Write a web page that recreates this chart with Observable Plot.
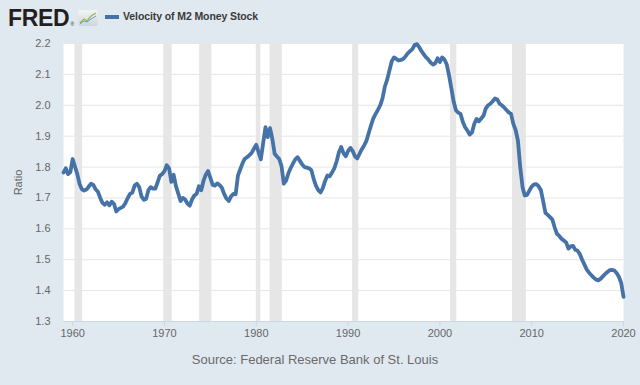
<!DOCTYPE html>
<html>
<head>
<meta charset="utf-8">
<script src="https://cdn.jsdelivr.net/npm/d3@7"></script>
<script src="https://cdn.jsdelivr.net/npm/@observablehq/plot@0.6"></script>
<style>
  html, body { margin: 0; padding: 0; }
  body { background: #e1e9f0; width: 640px; height: 385px; overflow: hidden; font-family: "Liberation Sans", Arial, sans-serif; }
  #header { position: relative; height: 36px; }
  #logo { position: absolute; left: 8px; top: 7px; font-size: 23px; line-height: 23px; font-weight: bold; color: #231f20; letter-spacing: -0.3px; }
  #logo sup { font-size: 5px; font-weight: normal; vertical-align: baseline; margin-left: 1px; }
  #icon { position: absolute; left: 78px; top: 10px; }
  #swatch { position: absolute; left: 105px; top: 15px; width: 14px; height: 4px; background: #4572a7; }
  #legend { position: absolute; left: 123px; top: 10px; font-size: 10.5px; line-height: 13px; font-weight: bold; color: #3a3a3a; letter-spacing: -0.1px; }
  #caption { height: 28px; line-height: 28px; text-align: center; padding-right: 10px; font-size: 13px; color: #6a6a6a; }
  #chart svg { display: block; }
</style>
</head>
<body>
<div id="header">
  <div id="logo">FRED<sup>®</sup></div>
  <svg id="icon" width="20" height="16" viewBox="0 0 20 16">
    <defs><linearGradient id="g" x1="0" y1="0" x2="0" y2="1"><stop offset="0" stop-color="#f4f4f4"/><stop offset="1" stop-color="#cfd6dc"/></linearGradient></defs>
    <rect x="0" y="0" width="20" height="16" rx="2" fill="url(#g)"/>
    <polyline points="2,13 6,9 9,11 13,6 18,3" fill="none" stroke="#8fbf4a" stroke-width="1.3"/>
    <polyline points="2,14 6,11 9,12 13,9 18,6" fill="none" stroke="#6b9bd1" stroke-width="1"/>
  </svg>
  <div id="swatch"></div>
  <div id="legend"></div>
</div>
<div id="chart"></div>
<div id="caption"></div>
<script>
const seriesName = "Velocity of M2 Money Stock";
const sourceText = "Source: Federal Reserve Bank of St. Louis";
const yLabel = "Ratio";
const startYear = 1959; // quarterly series begins 1959 Q1

// Quarterly values, 1959 Q1 .. 2020 Q1
const velocity = [
  1.782, 1.796, 1.777, 1.784,  // 1959
  1.826, 1.802, 1.778, 1.745,  // 1960
  1.728, 1.724, 1.727, 1.737,  // 1961
  1.746, 1.742, 1.728, 1.720,  // 1962
  1.700, 1.684, 1.678, 1.686,  // 1963
  1.676, 1.688, 1.681, 1.656,  // 1964
  1.664, 1.668, 1.672, 1.684,  // 1965
  1.700, 1.713, 1.717, 1.740,  // 1966
  1.746, 1.735, 1.705, 1.694,  // 1967
  1.697, 1.725, 1.735, 1.730,  // 1968
  1.730, 1.750, 1.772, 1.777,  // 1969
  1.787, 1.806, 1.796, 1.752,  // 1970
  1.775, 1.738, 1.715, 1.690,  // 1971
  1.700, 1.695, 1.682, 1.675,  // 1972
  1.695, 1.708, 1.713, 1.738,  // 1973
  1.725, 1.755, 1.775, 1.787,  // 1974
  1.765, 1.742, 1.740, 1.747,  // 1975
  1.742, 1.733, 1.713, 1.698,  // 1976
  1.690, 1.705, 1.713, 1.712,  // 1977
  1.772, 1.792, 1.812, 1.827,  // 1978
  1.832, 1.838, 1.846, 1.860,  // 1979
  1.872, 1.848, 1.825, 1.878,  // 1980
  1.929, 1.897, 1.926, 1.891,  // 1981
  1.843, 1.834, 1.826, 1.803,  // 1982
  1.746, 1.756, 1.780, 1.797,  // 1983
  1.812, 1.825, 1.832, 1.820,  // 1984
  1.808, 1.800, 1.798, 1.796,  // 1985
  1.790, 1.762, 1.740, 1.725,  // 1986
  1.718, 1.732, 1.755, 1.773,  // 1987
  1.770, 1.782, 1.796, 1.818,  // 1988
  1.848, 1.865, 1.845, 1.835,  // 1989
  1.852, 1.862, 1.852, 1.835,  // 1990
  1.828, 1.843, 1.858, 1.870,  // 1991
  1.885, 1.910, 1.935, 1.958,  // 1992
  1.972, 1.985, 2.000, 2.022,  // 1993
  2.060, 2.082, 2.112, 2.142,  // 1994
  2.155, 2.150, 2.145, 2.147,  // 1995
  2.150, 2.158, 2.168, 2.175,  // 1996
  2.182, 2.195, 2.198, 2.188,  // 1997
  2.175, 2.165, 2.155, 2.148,  // 1998
  2.138, 2.132, 2.136, 2.152,  // 1999
  2.140, 2.155, 2.148, 2.132,  // 2000
  2.096, 2.055, 2.012, 1.984,  // 2001
  1.976, 1.972, 1.947, 1.929,  // 2002
  1.918, 1.905, 1.912, 1.940,  // 2003
  1.956, 1.948, 1.957, 1.966,  // 2004
  1.990, 2.000, 2.005, 2.013,  // 2005
  2.022, 2.019, 2.005, 2.000,  // 2006
  1.993, 1.985, 1.977, 1.972,  // 2007
  1.940, 1.920, 1.886, 1.800,  // 2008
  1.735, 1.708, 1.710, 1.724,  // 2009
  1.737, 1.744, 1.745, 1.738,  // 2010
  1.725, 1.690, 1.652, 1.645,  // 2011
  1.638, 1.630, 1.605, 1.584,  // 2012
  1.577, 1.568, 1.562, 1.556,  // 2013
  1.536, 1.543, 1.545, 1.532,  // 2014
  1.529, 1.518, 1.500, 1.484,  // 2015
  1.468, 1.458, 1.450, 1.442,  // 2016
  1.436, 1.433, 1.438, 1.446,  // 2017
  1.454, 1.460, 1.466, 1.467,  // 2018
  1.465, 1.457, 1.445, 1.425,  // 2019
  1.380                        // 2020
];

// NBER recessions (shaded)
const recessionStarts = ["1960-04-01", "1969-12-01", "1973-11-01", "1980-01-01", "1981-07-01", "1990-07-01", "2001-03-01", "2007-12-01"];
const recessionEnds   = ["1961-02-01", "1970-11-01", "1975-03-01", "1980-07-01", "1982-11-01", "1991-03-01", "2001-11-01", "2009-06-01"];

const yTicks = [1.3, 1.4, 1.5, 1.6, 1.7, 1.8, 1.9, 2.0, 2.1, 2.2];
const xTickYears = [1960, 1970, 1980, 1990, 2000, 2010, 2020];

document.getElementById("legend").textContent = seriesName;
document.getElementById("caption").textContent = sourceText;

const data = velocity.map((v, i) => ({
  date: new Date(Date.UTC(startYear + Math.floor(i / 4), (i % 4) * 3, 1)),
  value: v
}));
const recessions = recessionStarts.map((s, i) => ({ start: new Date(s), end: new Date(recessionEnds[i]) }));
const xTicks = xTickYears.map(y => new Date(Date.UTC(y, 0, 1)));

const chart = Plot.plot({
  width: 640,
  height: 310,
  marginLeft: 63,
  marginRight: 17,
  marginTop: 7,
  marginBottom: 25,
  style: { background: "transparent", fontFamily: "'Liberation Sans', Arial, sans-serif", fontSize: "11px", color: "#666" },
  x: { type: "utc", domain: [data[0].date, data[data.length - 1].date], label: null },
  y: { domain: [yTicks[0], yTicks[yTicks.length - 1]], label: null },
  marks: [
    Plot.frame({ fill: "white", stroke: "none" }),
    Plot.rect(recessions, { x1: "start", x2: "end", fill: "#e6e6e6" }),
    Plot.gridY(yTicks, { stroke: "#e6e6e6", strokeOpacity: 1 }),
    Plot.axisY(yTicks, {
      tickSize: 0, tickPadding: 13, tickFormat: d => d.toFixed(1), fill: "#666",
      label: yLabel, labelAnchor: "center", labelOffset: 49, labelArrow: "none"
    }),
    Plot.ruleY([yTicks[0]], { stroke: "#ccd6eb" }),
    Plot.axisX(xTicks, { tickSize: 5, tickPadding: 3, stroke: "#ccd6eb", fill: "#666", tickFormat: "%Y", label: null }),
    Plot.line(data, { x: "date", y: "value", stroke: "#4572a7", strokeWidth: 3.8, strokeLinejoin: "round" })
  ]
});
document.getElementById("chart").appendChild(chart);
</script>
</body>
</html>
